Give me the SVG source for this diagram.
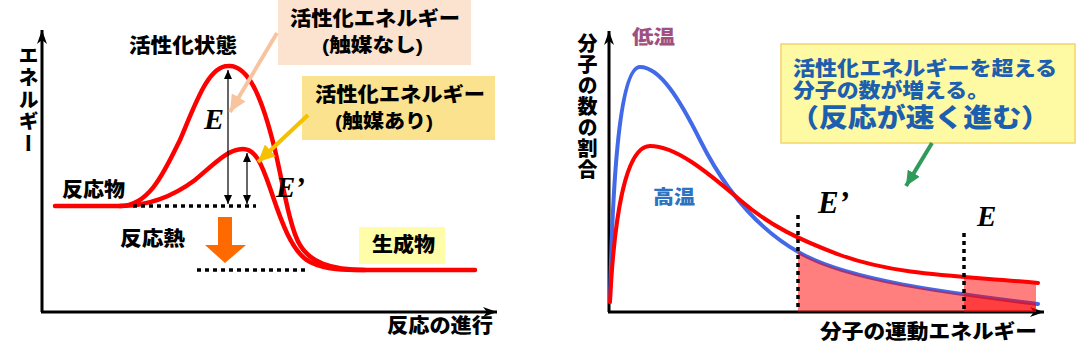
<svg xmlns="http://www.w3.org/2000/svg" width="1076" height="364" viewBox="0 0 1076 364">
<defs>
<style>
.jp{font-family:"Liberation Sans","Noto Sans CJK JP",sans-serif;font-weight:900;fill:#000;}
.vt{writing-mode:vertical-rl;}
.ital{font-family:"Liberation Serif",serif;font-weight:bold;font-style:italic;fill:#000;}
.axis{stroke:#000;stroke-width:3;fill:none;}
.red{stroke:#FF0000;stroke-width:4.5;fill:none;stroke-linecap:round;stroke-linejoin:round;}
.dot{stroke:#000;stroke-width:3.5;fill:none;stroke-dasharray:4 4;}
.thin{stroke:#000;stroke-width:1.2;fill:none;}
.callout{font-family:"Liberation Sans","Noto Sans CJK JP",sans-serif;font-weight:900;fill:#1C5FAE;}
</style>
<marker id="axHead" markerUnits="userSpaceOnUse" markerWidth="16" markerHeight="12" refX="14" refY="6" orient="auto">
<path d="M0,1 L14,6 L0,11 L4,6 Z" fill="#000"/>
</marker>
<marker id="smHead" markerUnits="userSpaceOnUse" markerWidth="10" markerHeight="8" refX="9" refY="4" orient="auto-start-reverse">
<path d="M0,0 L9,4 L0,8 Z" fill="#000"/>
</marker>
<marker id="peachHead" markerUnits="userSpaceOnUse" markerWidth="18" markerHeight="16" refX="17" refY="8" orient="auto">
<path d="M0,0 L17,8 L0,16 Z" fill="#F8C4A0"/>
</marker>
<marker id="goldHead" markerUnits="userSpaceOnUse" markerWidth="18" markerHeight="16" refX="17" refY="8" orient="auto">
<path d="M0,0 L17,8 L0,16 Z" fill="#F5C000"/>
</marker>
<marker id="greenHead" markerUnits="userSpaceOnUse" markerWidth="16" markerHeight="14" refX="15" refY="7" orient="auto">
<path d="M0,0 L15,7 L0,14 Z" fill="#2F9A5A"/>
</marker>
<clipPath id="clipA"><rect x="798" y="0" width="238" height="312"/></clipPath>
<clipPath id="clipB"><rect x="964" y="0" width="72" height="312"/></clipPath>
</defs>
<rect width="1076" height="364" fill="#FFFFFF"/>

<!-- LEFT CHART -->
<g id="left-axes">
<line class="axis" x1="42" y1="312" x2="42" y2="30" marker-end="url(#axHead)"/>
<line class="axis" x1="41" y1="312" x2="497" y2="312" marker-end="url(#axHead)"/>
</g>
<g id="left-axis-labels">
<text class="jp vt" x="27" y="45" font-size="20" letter-spacing="2">エネルギー</text>
<text class="jp" x="387" y="333" font-size="20" textLength="106" lengthAdjust="spacingAndGlyphs">反応の進行</text>
</g>

<g id="reaction-curves">
<path class="red" d="M55,206 L120,206"/>
<path class="red" d="M120,206 C150,206 165,170 180,140 C195,105 208,66 228,66 C250,64 264,105 275,150 C282,179 290,230 300,245 C310,262 330,270 365,270 L475,270"/>
<path class="red" d="M120,206 C150,206 175,195 195,180 C215,163 228,149 243,149 C256,149 262,165 270,188 C278,211 290,252 310,262 C326,270 345,270 365,270"/>
</g>

<g id="level-lines">
<line class="dot" x1="133" y1="206" x2="256" y2="206"/>
<line class="dot" x1="197" y1="270" x2="309" y2="270"/>
</g>

<g id="energy-arrows">
<line class="thin" x1="228" y1="70" x2="228" y2="204" marker-start="url(#smHead)" marker-end="url(#smHead)"/>
<line class="thin" x1="247" y1="153" x2="247" y2="204" marker-start="url(#smHead)" marker-end="url(#smHead)"/>
<text class="ital" x="204" y="129" font-size="30">E</text>
<text class="ital" x="276" y="197" font-size="29">E’</text>
</g>

<g id="activated-state">
<text class="jp" x="129" y="53" font-size="20" textLength="108" lengthAdjust="spacingAndGlyphs">活性化状態</text>
</g>

<g id="reactant">
<text class="jp" x="62" y="197" font-size="20" textLength="63" lengthAdjust="spacingAndGlyphs">反応物</text>
</g>

<g id="heat">
<text class="jp" x="120" y="246" font-size="20" textLength="65" lengthAdjust="spacingAndGlyphs">反応熱</text>
<path d="M218,217 L232,217 L232,245 L246,245 L225,263 L205,245 L218,245 Z" fill="#FF6A00"/>
</g>

<g id="product">
<rect x="359" y="227" width="86" height="37" fill="#FFFDA8"/>
<text class="jp" x="372" y="252" font-size="20" textLength="63" lengthAdjust="spacingAndGlyphs">生成物</text>
</g>

<g id="ea-no-catalyst">
<rect x="278" y="0" width="193" height="65" fill="#FBE3D0"/>
<text class="jp" x="290" y="26" font-size="20" textLength="170" lengthAdjust="spacingAndGlyphs">活性化エネルギー</text>
<text class="jp" x="322" y="52" font-size="19" textLength="101" lengthAdjust="spacingAndGlyphs">(触媒なし)</text>
</g>

<g id="ea-catalyst">
<rect x="302" y="76" width="193" height="64" fill="#FBE28F"/>
<text class="jp" x="315" y="102" font-size="20" textLength="170" lengthAdjust="spacingAndGlyphs">活性化エネルギー</text>
<text class="jp" x="335" y="128" font-size="19" textLength="98" lengthAdjust="spacingAndGlyphs">(触媒あり)</text>
</g>

<!-- RIGHT CHART -->
<g id="right-axes">
<line class="axis" x1="609" y1="312" x2="609" y2="31" marker-end="url(#axHead)"/>
<line class="axis" x1="608" y1="312" x2="1044" y2="312" marker-end="url(#axHead)"/>
</g>
<g id="right-axis-labels">
<text class="jp vt" x="586" y="33" font-size="20" letter-spacing="1">分子の数の割合</text>
<text class="jp" x="820" y="339" font-size="20" textLength="217" lengthAdjust="spacingAndGlyphs">分子の運動エネルギー</text>
</g>

<g id="distribution-curves">
<path d="M610,302 C612,200 618,67 640,67 C660,67 680,100 700,140 C720,180 750,225 800,253 C850,281 950,293 1038,304" fill="none" stroke="#4169E8" stroke-width="4" stroke-linecap="round"/>
<path d="M610,302 C614,220 625,146 650,146 C675,146 705,170 740,200 C770,226 800,240 840,255 C900,277 970,276 1038,283" fill="none" stroke="#FF0000" stroke-width="4" stroke-linecap="round"/>
</g>

<g id="shading">
<path clip-path="url(#clipA)" d="M610,302 C612,200 618,67 640,67 C660,67 680,100 700,140 C720,180 750,225 800,253 C850,281 950,293 1038,304 L1038,312 L610,312 Z" fill="#FF0000" fill-opacity="0.5"/>
<path clip-path="url(#clipB)" d="M610,302 C614,220 625,146 650,146 C675,146 705,170 740,200 C770,226 800,240 840,255 C900,277 970,276 1038,283 L1038,312 L610,312 Z" fill="#FF0000" fill-opacity="0.5"/>
</g>

<g id="thresholds">
<line class="dot" x1="798" y1="215" x2="798" y2="311" stroke-dasharray="3.5 3.5"/>
<line class="dot" x1="964" y1="233" x2="964" y2="311" stroke-dasharray="3.5 3.5"/>
<text class="ital" x="818" y="213" font-size="31">E’</text>
<text class="ital" x="977" y="226" font-size="29">E</text>
</g>

<g id="temp-labels">
<text class="jp" x="632" y="44" font-size="19" style="fill:#A0507F" textLength="43" lengthAdjust="spacingAndGlyphs">低温</text>
<text class="jp" x="653" y="204" font-size="19" style="fill:#2E73C0" textLength="42" lengthAdjust="spacingAndGlyphs">高温</text>
</g>

<g id="callout">
<rect x="781" y="44" width="294" height="99" fill="#FEF9A3" stroke="#F3D46B" stroke-width="1.5"/>
<text class="callout" x="793" y="76" font-size="20" textLength="264" lengthAdjust="spacingAndGlyphs">活性化エネルギーを超える</text>
<text class="callout" x="793" y="98" font-size="20" textLength="196" lengthAdjust="spacingAndGlyphs">分子の数が増える。</text>
<text class="callout" x="790" y="127" font-size="26" textLength="260" lengthAdjust="spacingAndGlyphs">（反応が速く進む）</text>
</g>

<g id="connectors">
<line x1="277" y1="33" x2="230" y2="112" stroke="#F8C4A0" stroke-width="4" marker-end="url(#peachHead)"/>
<line x1="308" y1="115" x2="258" y2="162" stroke="#F5C000" stroke-width="4" marker-end="url(#goldHead)"/>
<line x1="932" y1="143" x2="906" y2="186" stroke="#2F9A5A" stroke-width="4" marker-end="url(#greenHead)"/>
</g>
</svg>
